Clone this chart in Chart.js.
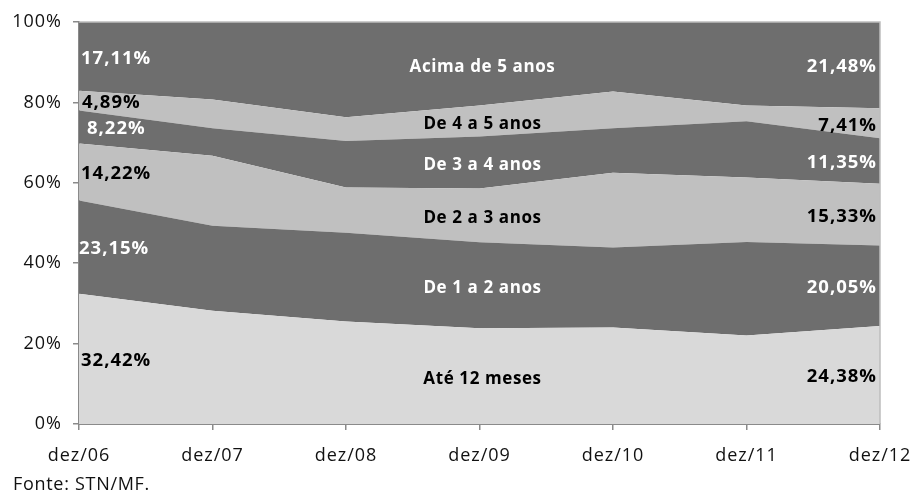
<!DOCTYPE html>
<html lang="pt-BR">
<head>
<meta charset="utf-8">
<title>Composição da DPF por prazo de vencimento</title>
<script src="https://cdn.jsdelivr.net/npm/chart.js@4.4.1/dist/chart.umd.min.js"></script>
<style>
  html, body { margin: 0; padding: 0; background: #ffffff; }
  #wrap { position: relative; width: 914px; height: 496px; }
  #fonte {
    position: absolute; left: 13px; top: 473px;
    font-family: "Open Sans", "DejaVu Sans", sans-serif;
    font-size: 18px; letter-spacing: 0.7px; color: #111111; line-height: 21px;
  }
</style>
</head>
<body>
<div id="wrap">
  <canvas id="chart" width="914" height="496"></canvas>
  <div id="fonte">Fonte: STN/MF.</div>
</div>
<script>
// Períodos (eixo X)
const categories = ["dez/06", "dez/07", "dez/08", "dez/09", "dez/10", "dez/11", "dez/12"];

// Participação (%) de cada faixa de vencimento, de baixo para cima
const ate12Meses   = [32.42, 28.2, 25.5, 23.8, 24.0, 22.0, 24.38];
const de1a2Anos    = [23.15, 21.1, 22.1, 21.4, 19.9, 23.3, 20.05];
const de2a3Anos    = [14.22, 17.4, 11.2, 13.4, 18.6, 16.0, 15.33];
const de3a4Anos    = [8.22, 6.9, 11.6, 12.9, 11.1, 14.0, 11.35];
const de4a5Anos    = [4.89, 7.1, 5.9, 7.7, 9.1, 3.9, 7.41];
const acima5Anos   = [17.11, 19.3, 23.7, 20.8, 17.3, 20.8, 21.48];

const seriesNames  = ["Até 12 meses", "De 1 a 2 anos", "De 2 a 3 anos", "De 3 a 4 anos", "De 4 a 5 anos", "Acima de 5 anos"];
const seriesValues = [ate12Meses, de1a2Anos, de2a3Anos, de3a4Anos, de4a5Anos, acima5Anos];

// Eixo Y: 0% a 100%
const yTicks = [0, 20, 40, 60, 80, 100];

const fills     = ["#d9d9d9", "#6e6e6e", "#c0c0c0", "#6e6e6e", "#c0c0c0", "#6e6e6e"];
const textColor = ["#000000", "#ffffff", "#000000", "#ffffff", "#000000", "#ffffff"];
const leftNudge = [0, -2, 0, 6, 1, 0];

const fmt = v => v.toFixed(2).replace(".", ",") + "%";

const datasets = seriesValues.map((vals, i) => ({
  label: seriesNames[i],
  data: vals,
  backgroundColor: fills[i],
  borderWidth: 0,
  pointRadius: 0,
  tension: 0,
  fill: i === 0 ? "origin" : "-1"
}));

// Espaçamento entre letras do texto desenhado no canvas
const spacingPlugin = {
  id: "spacing",
  beforeDraw(chart) { chart.ctx.letterSpacing = "1px"; }
};

// Moldura superior/direita da área do gráfico
const framePlugin = {
  id: "frame",
  afterDatasetsDraw(chart) {
    const { ctx, chartArea: a } = chart;
    ctx.save();
    ctx.strokeStyle = "#bdbdbd";
    ctx.lineWidth = 1.5;
    ctx.beginPath();
    ctx.moveTo(a.left, a.top);
    ctx.lineTo(a.right, a.top);
    ctx.lineTo(a.right, a.bottom);
    ctx.stroke();
    ctx.restore();
  }
};

// Rótulos: valores no início e no fim, nome de cada faixa no centro
const labelPlugin = {
  id: "bandLabels",
  afterDatasetsDraw(chart) {
    const { ctx, scales: { x, y } } = chart;
    const n = categories.length;
    const bandMid = (s, j) => {
      let base = 0;
      for (let k = 0; k < s; k++) base += seriesValues[k][j];
      return y.getPixelForValue(base + seriesValues[s][j] / 2);
    };
    ctx.save();
    ctx.textBaseline = "middle";
    seriesValues.forEach((vals, s) => {
      ctx.fillStyle = textColor[s];
      // valor inicial
      ctx.font = "bold 18.5px 'Open Sans', 'DejaVu Sans', sans-serif";
      ctx.letterSpacing = "1px";
      ctx.textAlign = "left";
      ctx.fillText(fmt(vals[0]), x.getPixelForValue(0) + 2 + leftNudge[s], bandMid(s, 0) + 2);
      // valor final
      ctx.textAlign = "right";
      ctx.fillText(fmt(vals[n - 1]), x.getPixelForValue(n - 1) - 3, bandMid(s, n - 1) + 2);
      // nome da faixa
      ctx.font = "bold 17px 'Open Sans', 'DejaVu Sans', sans-serif";
      ctx.letterSpacing = "0.6px";
      ctx.textAlign = "center";
      ctx.fillText(seriesNames[s], x.getPixelForValue(3) + 3, bandMid(s, 3) + 3);
    });
    ctx.restore();
  }
};

new Chart(document.getElementById("chart"), {
  type: "line",
  data: { labels: categories, datasets },
  plugins: [spacingPlugin, framePlugin, labelPlugin],
  options: {
    responsive: false,
    animation: false,
    events: [],
    layout: { padding: { left: 0, top: 22, right: 34, bottom: 0 } },
    plugins: { legend: { display: false }, tooltip: { enabled: false }, title: { display: false } },
    scales: {
      x: {
        offset: false,
        afterFit: s => { s.height = 72; s.paddingLeft = 0; s.paddingRight = 0; },
        border: { display: true, color: "#8a8a8a", width: 2 },
        grid: { display: true, drawOnChartArea: false, drawTicks: true, tickLength: 6, color: "#8a8a8a", lineWidth: 1.5 },
        ticks: { color: "#111111", padding: 15, maxRotation: 0, autoSkip: false,
                 font: { family: "'Open Sans', 'DejaVu Sans', sans-serif", size: 18 } }
      },
      y: {
        stacked: true,
        min: 0,
        max: 100,
        afterFit: s => { s.width = 79; },
        afterBuildTicks: s => { s.ticks = yTicks.map(v => ({ value: v })); },
        border: { display: true, color: "#8a8a8a", width: 2 },
        grid: { display: true, drawOnChartArea: false, drawTicks: true, tickLength: 6, color: "#8a8a8a", lineWidth: 1.5 },
        ticks: { color: "#111111", padding: 11, callback: v => v + "%",
                 font: { family: "'Open Sans', 'DejaVu Sans', sans-serif", size: 18 } }
      }
    }
  }
});
</script>
</body>
</html>
